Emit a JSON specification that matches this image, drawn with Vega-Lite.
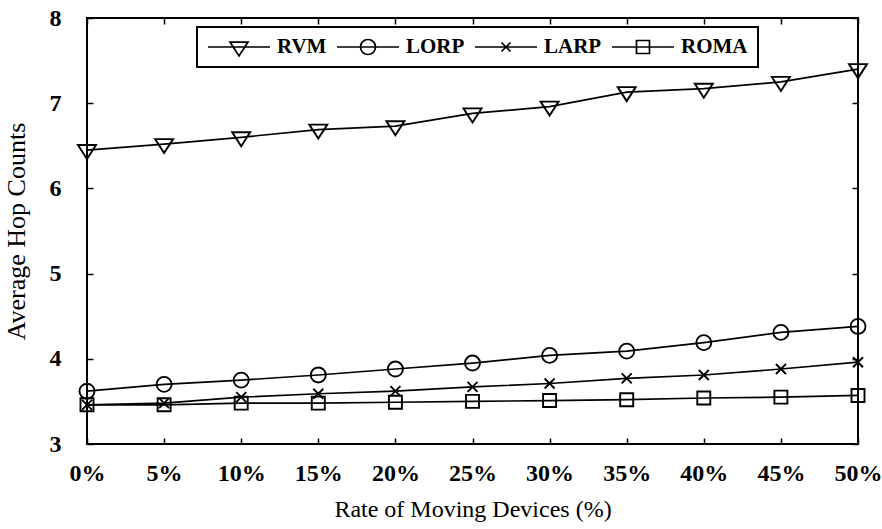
{
  "$schema": "https://vega.github.io/schema/vega-lite/v6.json",
  "autosize": {"type": "none"},
  "padding": {"left": 87, "top": 18, "right": 24, "bottom": 85},
  "width": 771,
  "height": 426,
  "config": {
    "font": "Liberation Serif",
    "view": {"stroke": "black", "strokeWidth": 2},
    "axis": {
      "grid": false,
      "domain": false,
      "tickColor": "black",
      "tickWidth": 1.5,
      "tickSize": -6,
      "labelColor": "black",
      "labelFont": "Liberation Serif",
      "labelFontSize": 24,
      "labelFontWeight": "bold",
      "titleColor": "black",
      "titleFont": "Liberation Serif",
      "titleFontSize": 24,
      "titleFontWeight": "normal"
    },
    "legend": {"strokeWidth": 2}
  },
  "data": {
    "values": [
      {"series": "RVM", "rate": 0, "hops": 6.45},
      {"series": "RVM", "rate": 5, "hops": 6.52},
      {"series": "RVM", "rate": 10, "hops": 6.60},
      {"series": "RVM", "rate": 15, "hops": 6.69},
      {"series": "RVM", "rate": 20, "hops": 6.73},
      {"series": "RVM", "rate": 25, "hops": 6.88},
      {"series": "RVM", "rate": 30, "hops": 6.96},
      {"series": "RVM", "rate": 35, "hops": 7.13},
      {"series": "RVM", "rate": 40, "hops": 7.17},
      {"series": "RVM", "rate": 45, "hops": 7.25},
      {"series": "RVM", "rate": 50, "hops": 7.40},
      {"series": "LORP", "rate": 0, "hops": 3.62},
      {"series": "LORP", "rate": 5, "hops": 3.70},
      {"series": "LORP", "rate": 10, "hops": 3.75},
      {"series": "LORP", "rate": 15, "hops": 3.81},
      {"series": "LORP", "rate": 20, "hops": 3.88},
      {"series": "LORP", "rate": 25, "hops": 3.95},
      {"series": "LORP", "rate": 30, "hops": 4.04},
      {"series": "LORP", "rate": 35, "hops": 4.09},
      {"series": "LORP", "rate": 40, "hops": 4.19},
      {"series": "LORP", "rate": 45, "hops": 4.31},
      {"series": "LORP", "rate": 50, "hops": 4.38},
      {"series": "LARP", "rate": 0, "hops": 3.46},
      {"series": "LARP", "rate": 5, "hops": 3.48},
      {"series": "LARP", "rate": 10, "hops": 3.55},
      {"series": "LARP", "rate": 15, "hops": 3.59},
      {"series": "LARP", "rate": 20, "hops": 3.62},
      {"series": "LARP", "rate": 25, "hops": 3.67},
      {"series": "LARP", "rate": 30, "hops": 3.71},
      {"series": "LARP", "rate": 35, "hops": 3.77},
      {"series": "LARP", "rate": 40, "hops": 3.81},
      {"series": "LARP", "rate": 45, "hops": 3.88},
      {"series": "LARP", "rate": 50, "hops": 3.96},
      {"series": "ROMA", "rate": 0, "hops": 3.46},
      {"series": "ROMA", "rate": 5, "hops": 3.46},
      {"series": "ROMA", "rate": 10, "hops": 3.48},
      {"series": "ROMA", "rate": 15, "hops": 3.48},
      {"series": "ROMA", "rate": 20, "hops": 3.49},
      {"series": "ROMA", "rate": 25, "hops": 3.50},
      {"series": "ROMA", "rate": 30, "hops": 3.51},
      {"series": "ROMA", "rate": 35, "hops": 3.52},
      {"series": "ROMA", "rate": 40, "hops": 3.54},
      {"series": "ROMA", "rate": 45, "hops": 3.55},
      {"series": "ROMA", "rate": 50, "hops": 3.57}
    ]
  },
  "resolve": {
    "scale": {"shape": "independent"},
    "axis": {"x": "independent", "y": "independent"}
  },
  "layer": [
    {
      "mark": {"type": "line", "color": "black", "strokeWidth": 1.7},
      "encoding": {
        "x": {
          "field": "rate", "type": "quantitative",
          "scale": {"domain": [0, 50], "nice": false},
          "axis": {
            "orient": "bottom",
            "values": [0, 5, 10, 15, 20, 25, 30, 35, 40, 45, 50],
            "labelExpr": "datum.value + '%'",
            "labelPadding": 23,
            "labelFlush": false,
            "title": "Rate of Moving Devices (%)",
            "titlePadding": 12
          }
        },
        "y": {
          "field": "hops", "type": "quantitative",
          "scale": {"domain": [3, 8], "nice": false, "zero": false},
          "axis": {
            "orient": "left",
            "values": [3, 4, 5, 6, 7, 8],
            "labelPadding": 32,
            "labelFlush": false,
            "title": "Average Hop Counts",
            "titleFontSize": 26,
            "titlePadding": 20
          }
        },
        "detail": {"field": "series", "type": "nominal"}
      }
    },
    {
      "mark": {"type": "point", "filled": false, "color": "black", "strokeWidth": 1.9, "size": 100, "opacity": 1},
      "encoding": {
        "x": {
          "field": "rate", "type": "quantitative",
          "axis": {"orient": "top", "values": [0, 5, 10, 15, 20, 25, 30, 35, 40, 45, 50], "labels": false, "title": null}
        },
        "y": {
          "field": "hops", "type": "quantitative",
          "axis": {"orient": "right", "values": [3, 4, 5, 6, 7, 8], "labels": false, "title": null}
        },
        "shape": {
          "field": "series", "type": "nominal",
          "scale": {
            "domain": ["RVM", "LORP", "LARP", "ROMA"],
            "range": [
              "M-1.8,-1L1.8,-1L0,1.8Z",
              "M1.5,0A1.5,1.5,0,1,1,-1.5,0A1.5,1.5,0,1,1,1.5,0Z",
              "M-1,-1L1,1M-1,1L1,-1",
              "M-1.3,-1.3H1.3V1.3H-1.3Z"
            ]
          },
          "legend": null
        }
      }
    },
    {
      "transform": [{"filter": "false"}],
      "mark": {"type": "point", "filled": false, "color": "black", "strokeWidth": 1.7, "opacity": 1},
      "encoding": {
        "shape": {
          "field": "series", "type": "nominal",
          "scale": {
            "domain": ["RVM", "LORP", "LARP", "ROMA"],
            "range": [
              "M-1,0H1M-0.29,-0.16L0.29,-0.16L0,0.29Z",
              "M-1,0H1M0.242,0A0.242,0.242,0,1,1,-0.242,0A0.242,0.242,0,1,1,0.242,0Z",
              "M-1,0H1M-0.145,-0.145L0.145,0.145M-0.145,0.145L0.145,-0.145",
              "M-1,0H1M-0.21,-0.21H0.21V0.21H-0.21Z"
            ]
          },
          "legend": {
            "title": null,
            "orient": "none",
            "legendX": 110,
            "legendY": 9,
            "direction": "horizontal",
            "columns": 4,
            "symbolSize": 3844,
            "symbolStrokeWidth": 1.7,
            "symbolStrokeColor": "black",
            "symbolFillColor": "transparent",
            "symbolOpacity": 1,
            "clipHeight": 20,
            "labelFont": "Liberation Serif",
            "labelFontSize": 21,
            "labelFontWeight": "bold",
            "labelColor": "black",
            "labelOffset": 6,
            "columnPadding": 9,
            "padding": 10,
            "fillColor": "white",
            "strokeColor": "black"
          }
        }
      }
    }
  ]
}
